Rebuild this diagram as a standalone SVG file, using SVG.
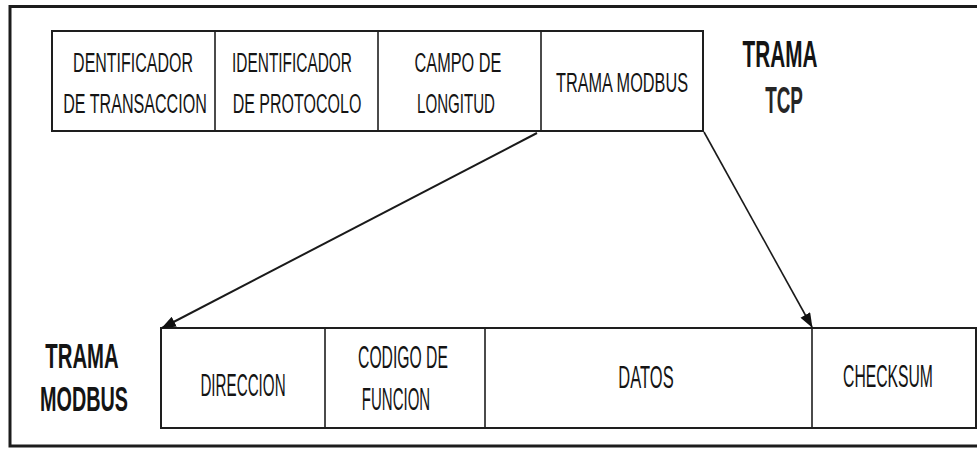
<svg xmlns="http://www.w3.org/2000/svg" width="977" height="449" viewBox="0 0 977 449">
  <style>
    .cell { fill: #ffffff; stroke: #1e1e1e; stroke-width: 2; }
    .div { stroke: #1e1e1e; stroke-width: 1.6; }
    .t { font-family: "Liberation Sans", Arial, sans-serif; fill: #141414; text-anchor: middle; }
    .s { font-size: 28px; }
    .m { font-size: 31px; }
    .big { font-size: 37px; font-weight: bold; }
    .tcp { font-size: 37px; font-weight: bold; fill: #262626; }
    .big2 { font-size: 35px; font-weight: bold; }
    .link { stroke: #1a1a1a; fill: none; }
  </style>
  <defs>
    <marker id="head" viewBox="0 0 16 12" refX="15" refY="6" markerWidth="15" markerHeight="11" markerUnits="userSpaceOnUse" orient="auto">
      <path d="M0,0 L16,6 L0,12 Z" fill="#111111"/>
    </marker>
  </defs>

  <rect width="977" height="449" fill="#ffffff"/>
  <!-- outer frame, open to the right -->
  <path d="M990,6.5 H10 V446 H990" fill="none" stroke="#1c1c1c" stroke-width="3"/>

  <!-- TCP frame -->
  <g id="tcp-frame">
    <rect class="cell" x="52" y="31" width="651" height="100"/>
    <line class="div" x1="215" y1="31" x2="215" y2="131"/>
    <line class="div" x1="378" y1="31" x2="378" y2="131"/>
    <line class="div" x1="541" y1="31" x2="541" y2="131"/>
  </g>
  <g id="id-transaccion">
    <text class="t s" transform="translate(133,72) scale(0.571,1)">DENTIFICADOR</text>
    <text class="t s" transform="translate(135,113) scale(0.575,1)">DE TRANSACCION</text>
  </g>
  <g id="id-protocolo">
    <text class="t s" transform="translate(292,72) scale(0.551,1)">IDENTIFICADOR</text>
    <text class="t s" transform="translate(297,113) scale(0.572,1)">DE PROTOCOLO</text>
  </g>
  <g id="campo-longitud">
    <text class="t s" transform="translate(458,72) scale(0.582,1)">CAMPO DE</text>
    <text class="t s" transform="translate(456,113) scale(0.539,1)">LONGITUD</text>
  </g>
  <g id="trama-modbus-cell">
    <text class="t s" transform="translate(622,92) scale(0.582,1)">TRAMA MODBUS</text>
  </g>
  <g id="label-tcp">
    <text class="t big" transform="translate(780,67) scale(0.56,1)">TRAMA</text>
    <text class="t tcp" transform="translate(784,113) scale(0.51,1)">TCP</text>
  </g>

  <!-- MODBUS frame -->
  <g id="modbus-frame">
    <rect class="cell" x="161" y="328" width="815" height="100"/>
    <line class="div" x1="325" y1="328" x2="325" y2="428"/>
    <line class="div" x1="485" y1="328" x2="485" y2="428"/>
    <line class="div" x1="812" y1="328" x2="812" y2="428"/>
  </g>
  <g id="direccion">
    <text class="t m" transform="translate(243,396) scale(0.49,1)">DIRECCION</text>
  </g>
  <g id="codigo-funcion">
    <text class="t m" transform="translate(403,368) scale(0.507,1)">CODIGO DE</text>
    <text class="t m" transform="translate(396,410) scale(0.484,1)">FUNCION</text>
  </g>
  <g id="datos">
    <text class="t m" transform="translate(646,388) scale(0.532,1)">DATOS</text>
  </g>
  <g id="checksum">
    <text class="t m" transform="translate(888,387) scale(0.507,1)">CHECKSUM</text>
  </g>
  <g id="label-modbus">
    <text class="t big2" transform="translate(82,368) scale(0.58,1)">TRAMA</text>
    <text class="t big2" transform="translate(84,411) scale(0.566,1)">MODBUS</text>
  </g>

  <!-- connectors from the embedded MODBUS field to the expanded frame -->
  <g id="connectors">
    <line class="link" x1="537" y1="133" x2="162" y2="328" stroke-width="2" marker-end="url(#head)"/>
    <line class="link" x1="704" y1="132" x2="812" y2="327" stroke-width="1.6" marker-end="url(#head)"/>
  </g>
</svg>
